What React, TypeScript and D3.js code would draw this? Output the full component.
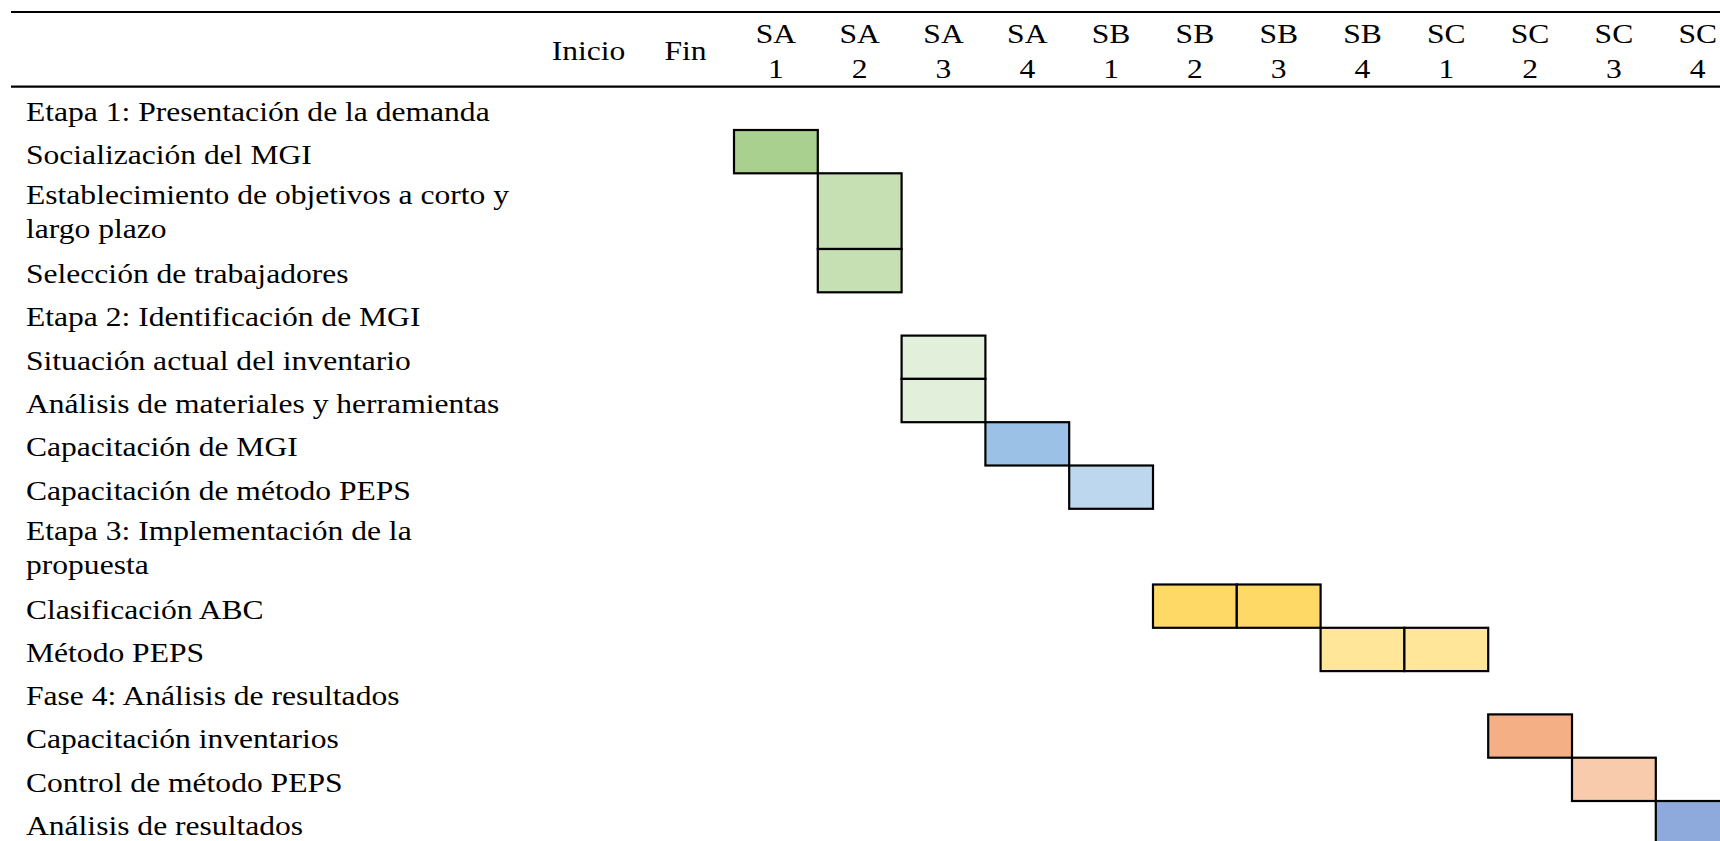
import React from "react";
import * as d3 from "d3";

// Week columns of the schedule
const weeks = ["SA 1", "SA 2", "SA 3", "SA 4", "SB 1", "SB 2", "SB 3", "SB 4", "SC 1", "SC 2", "SC 3", "SC 4"];

// Extra header columns before the weeks
const infoColumns = ["Inicio", "Fin"];

// Activity labels (one entry per wrapped line)
const activityLabels: string[][] = [
  ["Etapa 1: Presentación de la demanda"],
  ["Socialización del MGI"],
  ["Establecimiento de objetivos a corto y", "largo plazo"],
  ["Selección de trabajadores"],
  ["Etapa 2: Identificación de MGI"],
  ["Situación actual del inventario"],
  ["Análisis de materiales y herramientas"],
  ["Capacitación de MGI"],
  ["Capacitación de método PEPS"],
  ["Etapa 3: Implementación de la", "propuesta"],
  ["Clasificación ABC"],
  ["Método PEPS"],
  ["Fase 4: Análisis de resultados"],
  ["Capacitación inventarios"],
  ["Control de método PEPS"],
  ["Análisis de resultados"],
];

// Weeks in which each activity runs
const activityWeeks: string[][] = [
  [],
  ["SA 1"],
  ["SA 2"],
  ["SA 2"],
  [],
  ["SA 3"],
  ["SA 3"],
  ["SA 4"],
  ["SB 1"],
  [],
  ["SB 2", "SB 3"],
  ["SB 4", "SC 1"],
  [],
  ["SC 2"],
  ["SC 3"],
  ["SC 4"],
];

// Cell fill of each activity
const activityColors: string[] = [
  "none",
  "#A9D08E",
  "#C6E0B4",
  "#C6E0B4",
  "none",
  "#E2EFDA",
  "#E2EFDA",
  "#9BC2E6",
  "#BDD7EE",
  "none",
  "#FFD966",
  "#FFE699",
  "none",
  "#F4B084",
  "#F8CBAD",
  "#8EA9DB",
];

const W = 1720;
const H = 841;
const FONT = "Liberation Serif";
const FS = 28.2;
const SX = 1.12;

const headerTop = 12;
const headerBottom = 86.7;
const rowBase = 43.3;
const lineStep = 32.4;

export default function App() {
  const x = d3.scaleBand<string>().domain(weeks).range([734, 734 + 83.8 * weeks.length]).paddingInner(0);
  const xInfo = d3.scaleBand<string>().domain(infoColumns).range([540, 734]);

  // Row tops from cumulative heights
  const heights = activityLabels.map((l) => rowBase + (l.length - 1) * lineStep);
  const tops: number[] = [];
  heights.reduce((acc, h) => {
    tops.push(acc);
    return acc + h;
  }, headerBottom);

  const txt = (key: string, tx: number, ty: number, s: string, anchor: "start" | "middle" = "start") => (
    <text
      key={key}
      transform={`translate(${tx},${ty}) scale(${SX},1)`}
      textAnchor={anchor}
      style={{ fontFamily: FONT, fontSize: FS }}
      fill="#000"
    >
      {s}
    </text>
  );

  return (
    <svg
      width={W}
      height={H}
      style={{ position: "fixed", left: 0, top: 0, display: "block", background: "#fff" }}
    >
      <rect x={0} y={0} width={W} height={H} fill="#fff" />
      {/* header rules */}
      <line x1={11} x2={W} y1={headerTop} y2={headerTop} stroke="#000" strokeWidth={2.2} />
      <line x1={11} x2={W} y1={headerBottom} y2={headerBottom} stroke="#000" strokeWidth={2.2} />

      {/* header labels */}
      {infoColumns.map((c) => txt(`h-${c}`, (xInfo(c) ?? 0) + xInfo.bandwidth() / 2, 60, c, "middle"))}
      {weeks.map((w) => {
        const [a, b] = w.split(" ");
        const cx = (x(w) ?? 0) + x.bandwidth() / 2;
        return (
          <g key={`w-${w}`}>
            {txt(`wa-${w}`, cx, 42.5, a, "middle")}
            {txt(`wb-${w}`, cx, 78, b, "middle")}
          </g>
        );
      })}

      {/* activity cells */}
      {activityWeeks.map((ws, i) =>
        ws.map((w) => (
          <rect
            key={`c-${i}-${w}`}
            x={x(w) ?? 0}
            y={tops[i]}
            width={x.bandwidth()}
            height={heights[i]}
            fill={activityColors[i]}
            stroke="#000"
            strokeWidth={2.2}
          />
        ))
      )}

      {/* activity labels */}
      {activityLabels.map((lines, i) =>
        lines.map((s, j) => txt(`l-${i}-${j}`, 26, tops[i] + (lines.length > 1 ? 31 : 34) + j * 34, s))
      )}
    </svg>
  );
}
